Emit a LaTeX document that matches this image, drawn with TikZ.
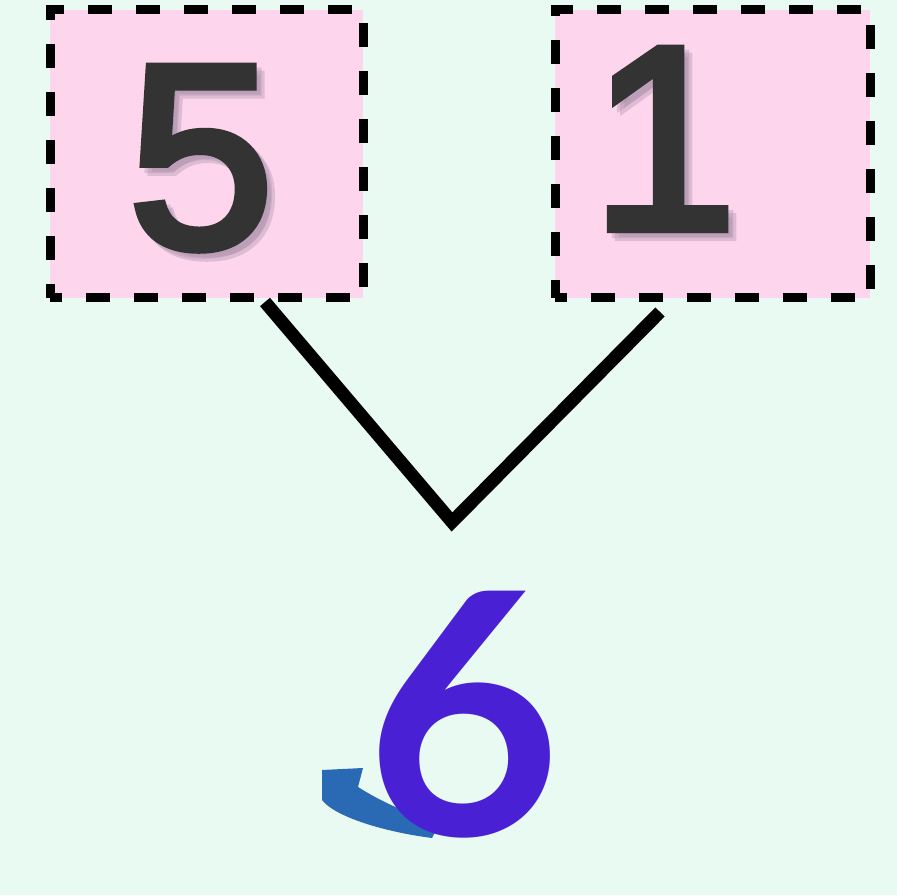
\documentclass[tikz,border=0pt]{standalone}
\usepackage{fontspec}
\newfontfamily\digitfont{Liberation Sans}[FakeBold=3.2]
\newfontfamily\sixfont{Lato}
\definecolor{bgmint}{HTML}{E9FAF3}
\definecolor{boxpink}{HTML}{FDD5EC}
\definecolor{digitgray}{HTML}{333333}
\definecolor{shadowc}{HTML}{A78CA8}
\definecolor{sixblue}{HTML}{4A20D4}
\definecolor{swoosh}{HTML}{2A6AB5}
\tikzset{
  numbox/.style={draw=black, fill=boxpink, line width=9pt, dash pattern=on 24pt off 24pt, dash phase=12pt, minimum height=288pt, inner sep=0pt},
  bigdigit/.style={font=\digitfont\fontsize{262}{262}\selectfont, text=digitgray, inner sep=0pt, anchor=base},
  digitshadow/.style={font=\digitfont\fontsize{262}{262}\selectfont, text=shadowc, opacity=0.35, inner sep=0pt, anchor=base},
  link/.style={line width=13pt, line join=miter, black}
}
\begin{document}
\begin{tikzpicture}[x=1pt,y=1pt]
\fill[bgmint] (0,0) rectangle (897,895);
\useasboundingbox (0,0) rectangle (897,895);
\node[numbox, minimum width=313pt] (box5) at (206.5,741) {};
\node[numbox, minimum width=315pt] (box1) at (712.5,741) {};
\node[digitshadow] (sh5a) at (209,640) {5};
\node[digitshadow] (sh5b) at (206,643) {5};
\node[bigdigit] (d5) at (201,648) {5};
\node[digitshadow] (sh1a) at (672,658) {1};
\node[digitshadow] (sh1b) at (669,661) {1};
\node[bigdigit] (d1) at (664,666) {1};
\coordinate (a) at (265,593);
\coordinate (v) at (452,373);
\coordinate (b) at (660,583);
\draw[link] (a) -- (v) -- (b);
\fill[swoosh] (322,125) -- (363,127) -- (358,108)
  .. controls (380,94) and (410,80) .. (440,72) -- (432,57)
  .. controls (385,63) and (335,78) .. (322,95) -- cycle;
\node[font=\sixfont\bfseries\fontsize{338}{338}\selectfont, text=sixblue, inner sep=0pt, anchor=base] (d6) at (464,60) {6};
\end{tikzpicture}
\end{document}
